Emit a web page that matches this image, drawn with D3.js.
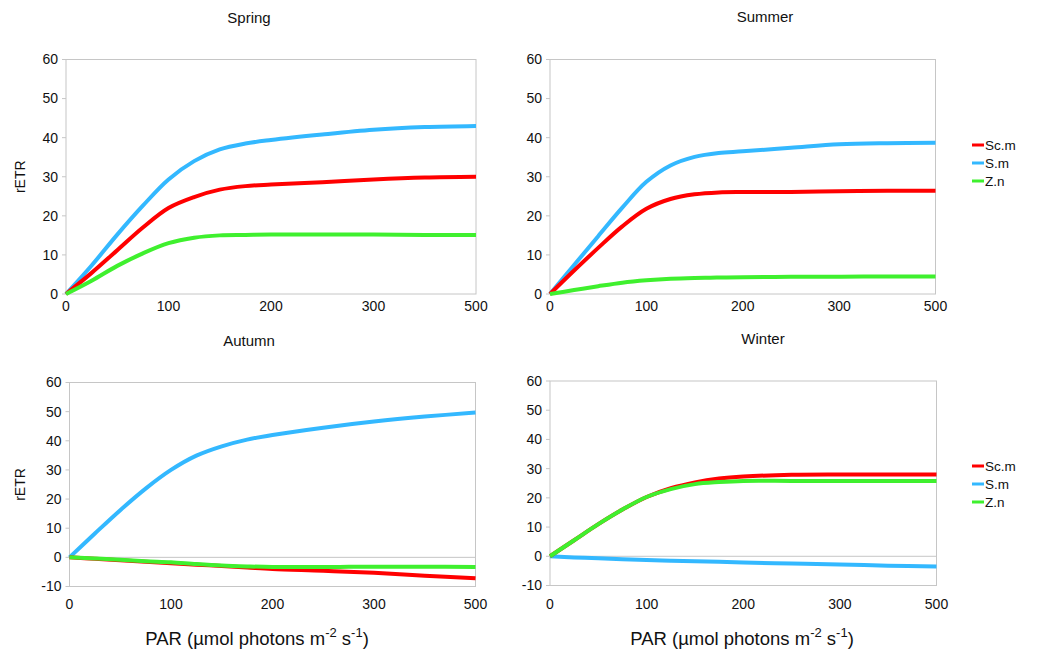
<!DOCTYPE html>
<html>
<head>
<meta charset="utf-8">
<script src="https://cdn.jsdelivr.net/npm/d3@7"></script>
<style>
  body { margin: 0; background: #fff; }
  text { font-family: "Liberation Sans", Arial, sans-serif; fill: #111; }
</style>
</head>
<body>
<div id="plot"></div>
<script>
// data
const seriesNames = ["Sc.m", "S.m", "Z.n"];
const seriesColors = ["#ff0000", "#33b8ff", "#3ff02e"];
const xTicks = [0, 100, 200, 300, 500];
const par = [0, 25, 50, 75, 100, 125, 150, 175, 200, 250, 300, 400, 500];

const springSc = [0, 5.4, 11.2, 17.0, 22.0, 24.8, 26.7, 27.6, 28.0, 28.6, 29.3, 29.8, 30.0];
const springS  = [0, 7.3, 15.2, 22.6, 29.3, 34.0, 37.0, 38.5, 39.4, 40.8, 42.0, 42.7, 43.0];
const springZ  = [0, 3.4, 7.2, 10.4, 13.0, 14.4, 15.0, 15.1, 15.2, 15.2, 15.2, 15.1, 15.1];

const summerSc = [0, 6.0, 11.8, 17.3, 21.8, 24.3, 25.5, 26.0, 26.1, 26.1, 26.3, 26.4, 26.4];
const summerS  = [0, 7.4, 14.8, 22.1, 28.7, 32.9, 35.1, 36.1, 36.5, 37.4, 38.3, 38.6, 38.7];
const summerZ  = [0, 1.0, 2.0, 2.9, 3.5, 3.9, 4.1, 4.2, 4.3, 4.4, 4.4, 4.5, 4.5];

const autumnSc = [0, -0.5, -1.0, -1.5, -2.0, -2.5, -3.0, -3.5, -4.0, -4.6, -5.3, -6.3, -7.2];
const autumnS  = [0, 8.2, 16.2, 23.6, 30.0, 34.9, 38.1, 40.4, 42.0, 44.5, 46.6, 48.3, 49.7];
const autumnZ  = [0, -0.4, -0.8, -1.3, -1.7, -2.3, -2.8, -3.1, -3.3, -3.3, -3.2, -3.2, -3.3];

const winterSc = [0, 5.5, 11.0, 16.0, 20.3, 23.3, 25.3, 26.6, 27.3, 27.9, 28.0, 28.0, 28.0];
const winterS  = [0, -0.4, -0.7, -1.0, -1.3, -1.5, -1.7, -1.9, -2.1, -2.5, -2.8, -3.2, -3.5];
const winterZ  = [0, 5.5, 11.0, 16.0, 20.3, 23.0, 24.7, 25.4, 25.8, 25.8, 25.8, 25.8, 25.8];

const panels = [
  { title: "Spring", values: [springSc, springS, springZ], yMin: 0,
    left: 66, right: 476, top: 59.5, bottom: 294, titleX: 249, titleY: 23, xLabY: 311,
    ylabel: true },
  { title: "Summer", values: [summerSc, summerS, summerZ], yMin: 0,
    left: 550, right: 935.5, top: 59.5, bottom: 294, titleX: 765, titleY: 22, xLabY: 311,
    legendY: 145 },
  { title: "Autumn", values: [autumnSc, autumnS, autumnZ], yMin: -10,
    left: 69.5, right: 475.5, top: 382.5, bottom: 586.5, titleX: 249, titleY: 346, xLabY: 609,
    ylabel: true, parX: 257 },
  { title: "Winter", values: [winterSc, winterS, winterZ], yMin: -10,
    left: 550, right: 936.5, top: 381, bottom: 585.5, titleX: 763, titleY: 344, xLabY: 609,
    legendY: 466, parX: 742 }
];

const svg = d3.select("#plot")
  .append("svg")
  .attr("width", 1062)
  .attr("height", 652);

panels.forEach(p => {
  const g = svg.append("g");

  // x axis is spaced by category: 0,100,200,300,500 equally apart
  const step = (p.right - p.left) / (xTicks.length - 1);
  const x = d3.scaleLinear()
    .domain(xTicks)
    .range(xTicks.map((d, i) => p.left + i * step));

  const y = d3.scaleLinear()
    .domain([p.yMin, 60])
    .range([p.bottom, p.top]);

  const yTicks = d3.range(p.yMin, 61, 10);

  // plot frame
  g.append("rect")
    .attr("x", p.left)
    .attr("y", p.top)
    .attr("width", p.right - p.left)
    .attr("height", p.bottom - p.top)
    .attr("fill", "none")
    .attr("stroke", "#c6c6c6")
    .attr("stroke-width", 1);

  // zero line
  if (p.yMin < 0) {
    g.append("line")
      .attr("x1", p.left).attr("x2", p.right)
      .attr("y1", y(0)).attr("y2", y(0))
      .attr("stroke", "#c6c6c6");
  }

  // y ticks and labels
  g.selectAll(".ytick")
    .data(yTicks)
    .enter()
    .append("line")
    .attr("x1", p.left - 4)
    .attr("x2", p.left)
    .attr("y1", d => y(d))
    .attr("y2", d => y(d))
    .attr("stroke", "#c6c6c6");

  g.selectAll(".ylab")
    .data(yTicks)
    .enter()
    .append("text")
    .attr("x", p.left - 8)
    .attr("y", d => y(d))
    .attr("dy", "0.35em")
    .attr("text-anchor", "end")
    .attr("font-size", 14)
    .text(d => d);

  // x labels
  g.selectAll(".xlab")
    .data(xTicks)
    .enter()
    .append("text")
    .attr("x", d => x(d))
    .attr("y", p.xLabY)
    .attr("text-anchor", "middle")
    .attr("font-size", 14)
    .text(d => d);

  // title
  g.append("text")
    .attr("x", p.titleX)
    .attr("y", p.titleY)
    .attr("text-anchor", "middle")
    .attr("font-size", 15)
    .text(p.title);

  if (p.ylabel) {
    g.append("text")
      .attr("transform", `translate(25, ${(p.top + p.bottom) / 2}) rotate(-90)`)
      .attr("text-anchor", "middle")
      .attr("font-size", 14)
      .text("rETR");
  }

  if (p.parX) {
    const t = g.append("text")
      .attr("x", p.parX)
      .attr("y", 645)
      .attr("text-anchor", "middle")
      .attr("font-size", 18.5);
    t.append("tspan").text("PAR (µmol photons m");
    t.append("tspan").attr("dy", -8).attr("font-size", 13).text("-2");
    t.append("tspan").attr("dy", 8).text(" s");
    t.append("tspan").attr("dy", -8).attr("font-size", 13).text("-1");
    t.append("tspan").attr("dy", 8).text(")");
  }

  // lines
  const line = d3.line()
    .x((d, i) => x(par[i]))
    .y(d => y(d))
    .curve(d3.curveCatmullRom.alpha(0.5));

  // draw blue first, then red, then green (green on top as in reference)
  [1, 0, 2].forEach(k => {
    g.append("path")
      .datum(p.values[k])
      .attr("d", line)
      .attr("fill", "none")
      .attr("stroke", seriesColors[k])
      .attr("stroke-width", 4)
      .attr("stroke-linejoin", "round");
  });

  if (p.legendY) {
    seriesNames.forEach((name, k) => {
      const yy = p.legendY + k * 18;
      g.append("line")
        .attr("x1", 972).attr("x2", 984)
        .attr("y1", yy).attr("y2", yy)
        .attr("stroke", seriesColors[k])
        .attr("stroke-width", 3);
      g.append("text")
        .attr("x", 985)
        .attr("y", yy)
        .attr("dy", "0.35em")
        .attr("font-size", 13.5)
        .text(name);
    });
  }
});
</script>
</body>
</html>
